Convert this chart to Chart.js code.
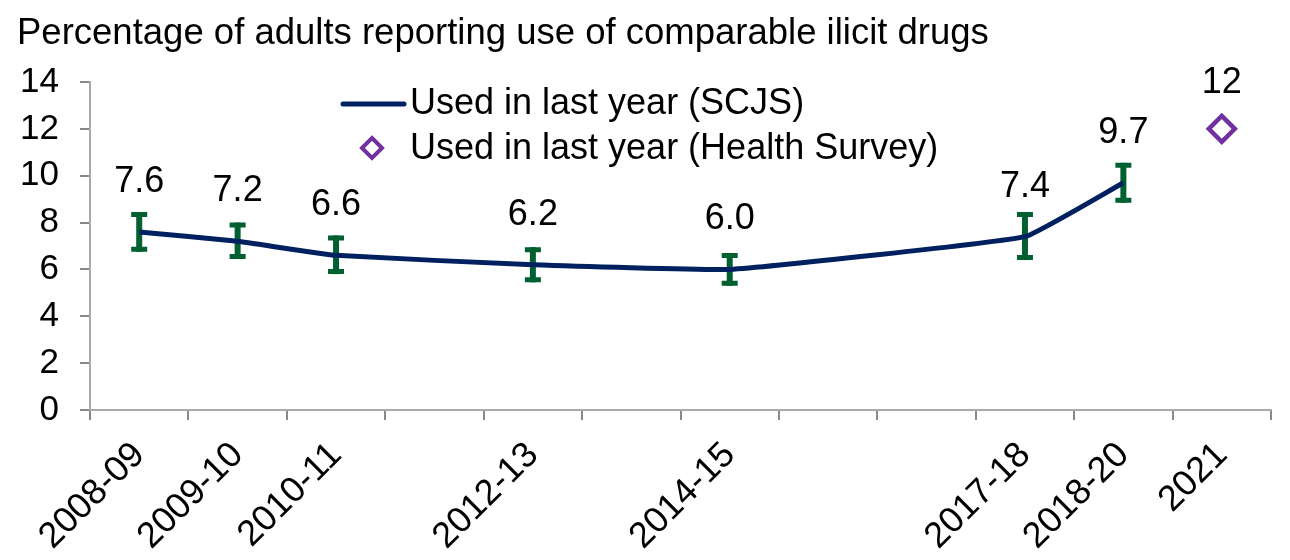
<!DOCTYPE html>
<html>
<head>
<meta charset="utf-8">
<script src="https://cdn.jsdelivr.net/npm/chart.js@4"></script>
<style>
  html, body { margin: 0; padding: 0; background: #fff; }
  #wrap { width: 1290px; height: 560px; }
</style>
</head>
<body>
<div id="wrap"><canvas id="drugChart" width="1290" height="560"></canvas></div>
<script>
// Survey years (blank entries are years with no survey)
const categories = ['2008-09', '2009-10', '2010-11', '', '2012-13', '', '2014-15', '', '', '2017-18', '2018-20', '2021'];

// Used in last year (SCJS), with confidence interval ends
const scjsValues = [7.6, 7.2, 6.6, null, 6.2, null, 6.0, null, null, 7.4, 9.7, null];
const scjsLower  = [6.75, 6.45, 5.8, null, 5.45, null, 5.3, null, null, 6.4, 8.85, null];
const scjsUpper  = [8.45, 8.0, 7.45, null, 6.95, null, 6.7, null, null, 8.45, 10.55, null];

// Used in last year (Health Survey)
const healthValues = [null, null, null, null, null, null, null, null, null, null, null, 12];

// y axis ticks
const yTicks = [0, 2, 4, 6, 8, 10, 12, 14];

const titleText = 'Percentage of adults reporting use of comparable ilicit drugs';
const FONT = '"Liberation Sans", Arial, sans-serif';
const navy = '#002060';
const green = '#006030';
const purple = '#7030A0';

// error bars drawn under the line
const errorBars = {
    id: 'errorBars',
    beforeDatasetsDraw(chart) {
        const ctx = chart.ctx;
        const x = chart.scales.x, y = chart.scales.y;
        ctx.save();
        ctx.strokeStyle = green;
        ctx.lineCap = 'butt';
        scjsValues.forEach((v, i) => {
            if (v === null) return;
            const px = x.getPixelForValue(i);
            const top = y.getPixelForValue(scjsUpper[i]);
            const bot = y.getPixelForValue(scjsLower[i]);
            ctx.lineWidth = 6;
            ctx.beginPath();
            ctx.moveTo(px, top);
            ctx.lineTo(px, bot);
            ctx.stroke();
            ctx.lineWidth = 5;
            ctx.beginPath();
            ctx.moveTo(px - 8, top + 2.5);
            ctx.lineTo(px + 8, top + 2.5);
            ctx.moveTo(px - 8, bot - 2.5);
            ctx.lineTo(px + 8, bot - 2.5);
            ctx.stroke();
        });
        ctx.restore();
    }
};

// title, value labels and legend
const overlay = {
    id: 'overlay',
    afterDraw(chart) {
        const ctx = chart.ctx;
        const x = chart.scales.x, y = chart.scales.y;
        ctx.save();
        ctx.fillStyle = '#000';
        ctx.textBaseline = 'alphabetic';
        ctx.textAlign = 'left';
        ctx.font = '36.5px ' + FONT;
        ctx.fillText(titleText, 17, 44);

        // value labels
        ctx.font = '36px ' + FONT;
        ctx.textAlign = 'center';
        scjsValues.forEach((v, i) => {
            if (v === null) return;
            ctx.fillText(v.toFixed(1), x.getPixelForValue(i), y.getPixelForValue(v) - 40);
        });
        healthValues.forEach((v, i) => {
            if (v === null) return;
            ctx.fillText(String(v), x.getPixelForValue(i), y.getPixelForValue(v) - 36);
        });

        // legend
        ctx.strokeStyle = navy;
        ctx.lineWidth = 5;
        ctx.lineCap = 'round';
        ctx.beginPath();
        ctx.moveTo(343, 104);
        ctx.lineTo(404, 104);
        ctx.stroke();
        ctx.strokeStyle = purple;
        ctx.lineWidth = 4;
        ctx.lineCap = 'butt';
        ctx.beginPath();
        ctx.moveTo(372, 138);
        ctx.lineTo(382, 148);
        ctx.lineTo(372, 158);
        ctx.lineTo(362, 148);
        ctx.closePath();
        ctx.stroke();
        ctx.textAlign = 'left';
        ctx.textBaseline = 'middle';
        ctx.fillStyle = '#000';
        ctx.fillText('Used in last year (SCJS)', 410, 104);
        ctx.fillText('Used in last year (Health Survey)', 410, 149);
        ctx.restore();
    }
};

const ctx = document.getElementById('drugChart').getContext('2d');
new Chart(ctx, {
    type: 'line',
    data: {
        labels: categories,
        datasets: [
            {
                label: 'Used in last year (SCJS)',
                data: scjsValues,
                borderColor: navy,
                borderWidth: 5,
                pointRadius: 0,
                tension: 0.1,
                spanGaps: true,
                fill: false
            },
            {
                label: 'Used in last year (Health Survey)',
                data: healthValues,
                showLine: false,
                pointStyle: 'rectRot',
                pointRadius: 13,
                pointBorderWidth: 4.5,
                pointBorderColor: purple,
                pointBackgroundColor: '#fff'
            }
        ]
    },
    options: {
        responsive: false,
        animation: false,
        layout: { padding: { top: 82, right: 19, left: 0, bottom: 0 } },
        plugins: {
            legend: { display: false },
            title: { display: false },
            tooltip: { enabled: false }
        },
        scales: {
            x: {
                offset: true,
                grid: { offset: true, drawOnChartArea: false, drawTicks: true, tickLength: 10, color: '#888', lineWidth: 2 },
                border: { display: true, color: '#aaa', width: 2 },
                ticks: {
                    autoSkip: false,
                    minRotation: 45,
                    maxRotation: 45,
                    padding: 14,
                    color: '#000',
                    font: { family: FONT, size: 36 }
                },
                afterFit(scale) { scale.height = 150; }
            },
            y: {
                min: 0,
                max: 14,
                afterBuildTicks(scale) { scale.ticks = yTicks.map(v => ({ value: v })); },
                grid: { drawOnChartArea: false, drawTicks: true, tickLength: 10, color: '#888', lineWidth: 2 },
                border: { display: true, color: '#aaa', width: 2 },
                ticks: {
                    padding: 21,
                    color: '#000',
                    font: { family: FONT, size: 35 }
                },
                afterFit(scale) { scale.width = 90; }
            }
        }
    },
    plugins: [errorBars, overlay]
});
</script>
</body>
</html>
